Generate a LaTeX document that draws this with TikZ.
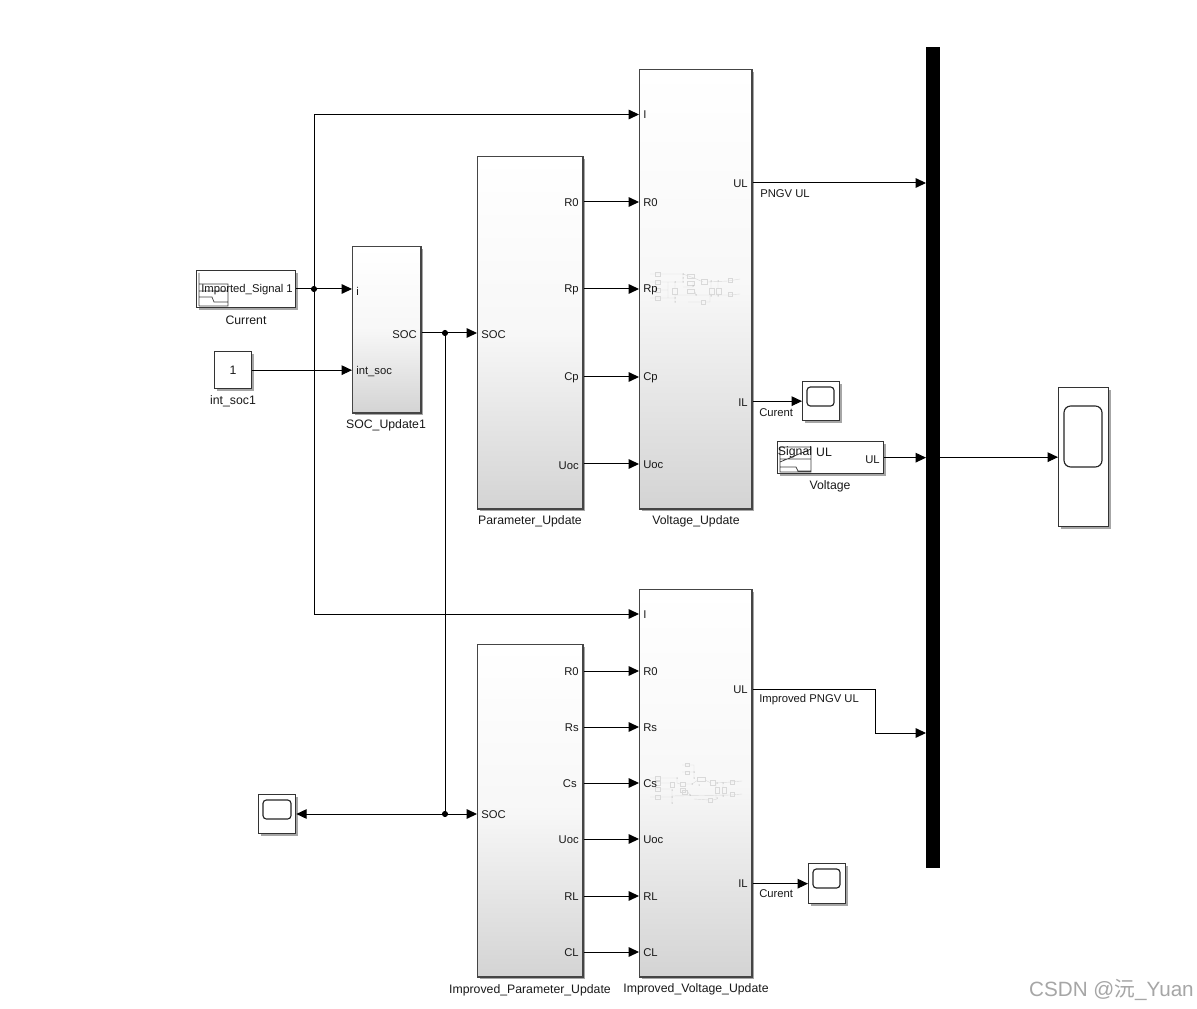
\documentclass[tikz,border=0pt]{standalone}
\usepackage{fontspec}
\setmainfont{Liberation Sans}
\newfontfamily\cjk{Noto Sans CJK SC}
\usetikzlibrary{arrows.meta,shadows,calc}
\definecolor{blockedge}{gray}{0.27}
\definecolor{faint}{gray}{0.85}
\tikzset{
 x=0.75pt,y=-0.75pt,
 every node/.style={font=\fontsize{8.45pt}{10pt}\selectfont,inner sep=0pt,text=black!90},
 wire/.style={draw=black,line width=0.75pt,-{Triangle[length=7.8pt,width=7.2pt]}},
 plain/.style={draw=black,line width=0.75pt},
 wdot/.style={circle,fill=black,minimum size=4.6pt},
 softshadow/.style={drop shadow={shadow xshift=1.6pt,shadow yshift=-1.6pt,opacity=.35,fill=black}},
 gradblock/.style={draw=blockedge,line width=1pt,top color=white,bottom color=black!17,middle color=black!3,rectangle,anchor=north west,softshadow},
 whiteblock/.style={draw=black!80,line width=0.85pt,fill=white,rectangle,anchor=north west,softshadow},
 scopeface/.style={draw=black!85,line width=0.85pt,rounded corners=2.5pt,fill=white},
 portl/.style={anchor=west},
 portr/.style={anchor=east},
 caption/.style={anchor=center,font=\fontsize{9.2pt}{11pt}\selectfont},
 icon/.style={draw=black!75,line width=0.55pt},
 mini/.style={draw=faint,line width=0.3pt},
 minibox/.style={draw=faint,line width=0.3pt},
 minidot/.style={fill=black!45},
}
\newcommand{\blk}[5]{\node[#1,minimum width=#4*0.75pt-0.6pt,minimum height=#5*0.75pt-0.6pt] (#2) at (#3) {};}
\begin{document}
\begin{tikzpicture}
\useasboundingbox (0,0) rectangle (1197,1009);
\fill[white] (0,0) rectangle (1197,1009);

% blocks
\blk{whiteblock}{cur}{196,270}{100}{38}
\blk{whiteblock}{const}{214,351}{38}{38}
\blk{gradblock}{socu}{352,246}{69}{167}
\blk{gradblock}{par}{477,156}{106}{353}
\blk{gradblock}{vol}{639,69}{113}{440}
\blk{whiteblock}{sc1}{802,381}{38}{40}
\blk{whiteblock}{volt}{777,441}{107}{33}
\node[rectangle,fill=black,anchor=north west,minimum width=14*0.75pt,minimum height=821*0.75pt] (mux) at (926,47) {};
\blk{whiteblock}{bigsc}{1058,387}{51}{140}
\blk{gradblock}{ipar}{477,644}{106}{333}
\blk{gradblock}{ivol}{639,589}{113}{388}
\blk{whiteblock}{sc2}{808,863}{38}{41}
\blk{whiteblock}{sc3}{258,794}{38}{40}

% scope faces
\draw[scopeface] (807,387) rectangle (834,406);
\draw[scopeface] (813,869) rectangle (840,888);
\draw[scopeface] (263,800) rectangle (291,819);
\draw[scopeface,rounded corners=5pt] (1064,406) rectangle (1102,467);

% signal icons
\draw[icon] (199,273) -- (199,306) (199,284) -- (228,284) -- (228,306) -- (199,306)
  (199,291) -- (228,291) (199,297) -- (212,297) -- (214,302) -- (228,302);
\draw[icon] (780,447) -- (780,472) -- (811,472) -- (811,447) -- (780,447)
  (780,462) -- (811,449) (780,467) -- (796,467) -- (798,471) -- (811,471) (780,459) -- (811,459);

% mini circuit 1
\draw[mini] (650,274) -- (683,274) -- (683,282) (650,282) -- (683,282) (650,290) -- (668,290) (668,282) -- (668,298) (650,298) -- (675,298) -- (675,302)
 (683,274) -- (694,278) (694,278) -- (703,282) (683,287) -- (693,287) -- (693,282) (708,282) -- (728,281) -- (740,279)
 (675,282) -- (675,288) (675,294) -- (675,298) (675,295) -- (728,295) -- (740,294) (711,281) -- (711,288) (718,281) -- (718,288)
 (711,293) -- (711,296) (718,293) -- (718,296) (688,302) -- (701,302) (705,302) -- (710,302) -- (710,296) (695,292) -- (696,295);
\foreach \bx/\by/\bw/\bh in {655/272/5/4,655/280/5/4,655/288/5/4,655/296/5/4,672/288/5/6,687/274/7/4,687/281/7/4,701/279/6/5,687/289/7/4,709/288/5/6,716/288/5/6,728/278/4/4,728/292/4/4,701/300/4/4}
  \draw[minibox] (\bx,\by) rectangle ++(\bw,\bh);
\foreach \dx/\dy in {683/274,683/282,675/298,675/282,696/295,711/281,718/281,711/296,718/296,693/286,683/278,675/302}
  \fill[minidot] (\dx,\dy) circle (0.5);
% mini circuit 2
\draw[mini] (682,765) -- (694,765) -- (694,778) (682,772) -- (694,772) (650,778) -- (677,778) -- (677,783) (650,783) -- (670,783)
 (650,789) -- (670,789) (650,797) -- (672,797) (677,783) -- (680,784) (685,784) -- (692,784) -- (698,780) (705,780) -- (711,783)
 (716,783) -- (731,782) -- (742,781) (716,782) -- (716,787) (723,782) -- (723,787) (716,793) -- (716,798) (723,793) -- (723,796)
 (672,796) -- (731,795) -- (742,794) (694,799) -- (709,800) (713,800) -- (717,799) (672,790) -- (672,803) (687,791) -- (690,795);
\foreach \bx/\by/\bw/\bh in {685/763/4/3,685/771/4/3,655/776/5/4,655/781/5/4,655/787/5/4,655/795/5/4,670/782/4/5,680/782/5/4,697/777/8/4,682/790/5/4,710/780/5/5,715/787/4/6,722/787/4/6,730/780/4/4,730/792/4/4,708/798/4/4,680/788/5/4}
  \draw[minibox] (\bx,\by) rectangle ++(\bw,\bh);
\foreach \dx/\dy in {677/778,694/778,694/772,672/790,672/797,672/803,692/784,690/795,717/783,723/783,717/798,723/796,699/785}
  \fill[minidot] (\dx,\dy) circle (0.5);

% block texts
\node (t_cur) at (247,290) {Imported\_Signal 1};
\node[caption] (t_const) at (233,370) {1};
\node[caption] (t_sig) at (795,452) {Signal};
\node[caption] (t_ul0) at (824,452) {UL};
\node[portr] (t_ul1) at (880,460) {UL};

% port labels
\node[portl] (s_i) at (356,291) {i};
\node[portl] (s_int) at (356,372) {int\_soc};
\node[portr] (s_soc) at (417,335) {SOC};
\node[portl] (p_soc) at (481,335) {SOC};
\node[portr] (p_r0) at (579,203) {R0};
\node[portr] (p_rp) at (579,290) {Rp};
\node[portr] (p_cp) at (579,378) {Cp};
\node[portr] (p_uoc) at (579,466) {Uoc};
\node[portl] (v_i) at (643,115) {I};
\node[portl] (v_r0) at (643,203) {R0};
\node[portl] (v_rp) at (643,290) {Rp};
\node[portl] (v_cp) at (643,378) {Cp};
\node[portl] (v_uoc) at (643,465) {Uoc};
\node[portr] (v_ul) at (748,184) {UL};
\node[portr] (v_il) at (748,403) {IL};
\node[portl] (q_soc) at (481,815) {SOC};
\node[portr] (q_r0) at (579,672) {R0};
\node[portr] (q_rs) at (579,728) {Rs};
\node[portr] (q_cs) at (577,784) {Cs};
\node[portr] (q_uoc) at (579,840) {Uoc};
\node[portr] (q_rl) at (579,897) {RL};
\node[portr] (q_cl) at (579,953) {CL};
\node[portl] (w_i) at (643,615) {I};
\node[portl] (w_r0) at (643,672) {R0};
\node[portl] (w_rs) at (643,728) {Rs};
\node[portl] (w_cs) at (643,784) {Cs};
\node[portl] (w_uoc) at (643,840) {Uoc};
\node[portl] (w_rl) at (643,897) {RL};
\node[portl] (w_cl) at (643,953) {CL};
\node[portr] (w_ul) at (748,690) {UL};
\node[portr] (w_il) at (748,884) {IL};

% captions
\node[caption] (c_cur) at (246,320) {Current};
\node[caption] (c_const) at (233,401) {int\_soc1};
\node[caption] (c_soc) at (386,425) {SOC\_Update1};
\node[caption] (c_par) at (530,521.5) {Parameter\_Update};
\node[caption] (c_vol) at (696,521.5) {Voltage\_Update};
\node[caption] (c_volt) at (830,486.5) {Voltage};
\node[caption] (c_ipar) at (530,990.5) {Improved\_Parameter\_Update};
\node[caption] (c_ivol) at (696,989.5) {Improved\_Voltage\_Update};
\node[portl] (l_pngv) at (760,194) {PNGV UL};
\node[portl] (l_cur1) at (759,413) {Curent};
\node[portl] (l_ipngv) at (759,700) {Improved PNGV UL};
\node[portl] (l_cur2) at (759,894) {Curent};

% junctions
\coordinate (jcur) at (314,289);
\coordinate (jsoc) at (445,333);
\coordinate (jlow) at (445,814);
\coordinate (ktop) at (314,114.5);
\coordinate (kbot) at (314,614);
\coordinate (kb1) at (875,689);
\coordinate (kb2) at (875,733);

% wires
\draw[wire] (cur.east |- jcur) -- (socu.west |- jcur);
\draw[wire] (jcur) -- (ktop) -- (vol.west |- ktop);
\draw[wire] (jcur) -- (kbot) -- (ivol.west |- kbot);
\draw[wire] (const.east) -- (socu.west |- const.east);
\draw[wire] (socu.east |- jsoc) -- (par.west |- jsoc);
\draw[plain] (jsoc) -- (jlow);
\draw[wire] (jlow) -- (ipar.west |- jlow);
\draw[wire] (jlow) -- (sc3.east |- jlow);
\foreach \a in {p_r0,p_rp,p_cp,v_uoc}
  \draw[wire] (par.east |- \a) ++(0,-1) -- (vol.west |- {$(\a)+(0,-1)$});
\foreach \a in {q_r0,q_rs,q_cs,q_uoc,q_rl,q_cl}
  \draw[wire] (ipar.east |- \a) ++(0,-1) -- (ivol.west |- {$(\a)+(0,-1)$});
\draw[wire] (vol.east |- v_ul) ++(0,-1) -- (mux.west |- {$(v_ul)+(0,-1)$});
\draw[wire] (vol.east |- sc1.west) -- (sc1.west);
\draw[wire] (volt.east) -- (mux.west |- volt.east);
\draw[wire] (mux.center |- bigsc.west) -- (bigsc.west);
\draw[wire] (ivol.east |- kb1) -- (kb1) -- (kb2) -- (mux.west |- kb2);
\draw[wire] (ivol.east |- sc2.west) -- (sc2.west);
\node[wdot] (d1) at (jcur) {};
\node[wdot] (d2) at (jsoc) {};
\node[wdot] (d3) at (jlow) {};

% watermark
\node[anchor=east,font=\fontsize{15.5pt}{18pt}\selectfont,text=black!35] (wm) at (1194,990) {CSDN @{\cjk 沅}\_Yuan};
\end{tikzpicture}
\end{document}
